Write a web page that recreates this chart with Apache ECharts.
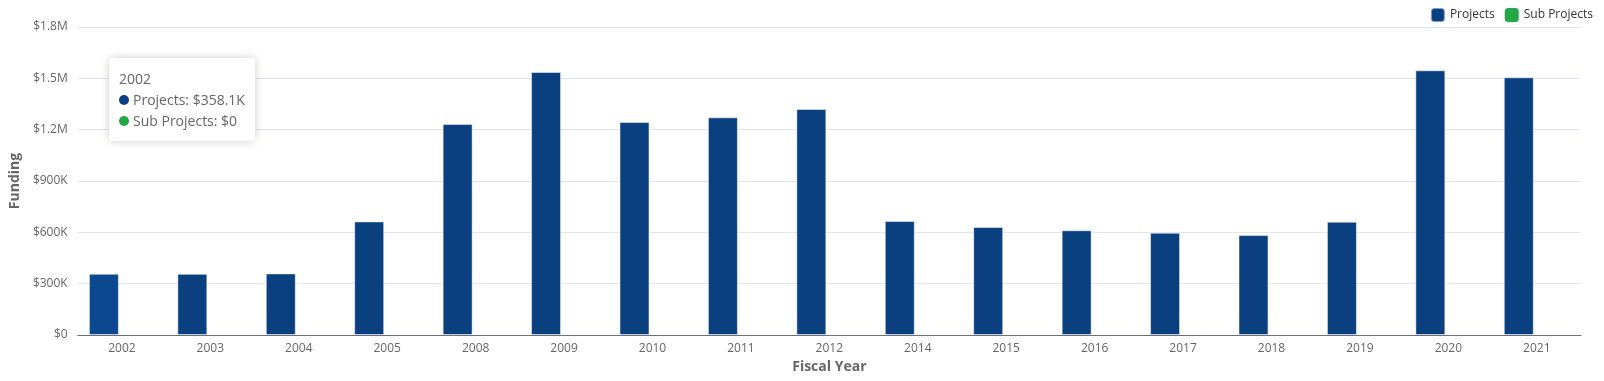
<!DOCTYPE html>
<html>
<head>
<meta charset="utf-8">
<script src="https://cdn.jsdelivr.net/npm/echarts@6/dist/echarts.min.js"></script>
<style>
html,body{margin:0;padding:0;background:#fff;}
#c{width:1604px;height:381px;}
</style>
</head>
<body>
<div id="c"></div>
<script>
var categories = ['2002','2003','2004','2005','2008','2009','2010','2011','2012','2014','2015','2016','2017','2018','2019','2020','2021'];
var projects = [358100, 357500, 360000, 664000, 1233000, 1537000, 1245000, 1272000, 1321000, 666000, 631000, 612000, 598000, 584000, 662000, 1547000, 1506000];
var subProjects = [0,0,0,0,0,0,0,0,0,0,0,0,0,0,0,0,0];
var yTicks = [0, 300000, 600000, 900000, 1200000, 1500000, 1800000];

var FONT = '"Open Sans", "Noto Sans", sans-serif';
function fmt(v) {
  if (v === 0) return '$0';
  if (v >= 1000000) return '$' + +(v / 1000000).toFixed(1) + 'M';
  if (v >= 1000) return '$' + +(v / 1000).toFixed(1) + 'K';
  return '$' + v;
}
var colors = ['#0a3f80', '#22a944'];
var chart = echarts.init(document.getElementById('c'));
chart.setOption({
  animation: false,
  textStyle: { fontFamily: FONT },
  color: colors,
  grid: { left: 76, right: 23, top: 27, bottom: 46 },
  legend: {
    right: 6, top: 2, icon: 'roundRect', itemWidth: 14, itemHeight: 14, itemGap: 10,
    textStyle: { fontSize: 12, color: '#333', fontFamily: FONT },
    data: ['Projects', 'Sub Projects']
  },
  tooltip: {
    trigger: 'axis',
    alwaysShowContent: true,
    axisPointer: { type: 'none' },
    position: function () { return [109, 58]; },
    padding: [10, 10],
    borderWidth: 0,
    backgroundColor: '#fff',
    extraCssText: 'box-shadow:0 0 10px rgba(0,0,0,0.2);border-radius:4px;',
    formatter: function (params) {
      var s = '<div style="font-family:' + FONT.replace(/"/g, "'") + ';font-size:14px;color:#666;line-height:21px;">' + params[0].name;
      params.forEach(function (p) {
        s += '<br/><span style="display:inline-block;width:10px;height:10px;border-radius:5px;margin-right:4px;background:' + p.color + ';"></span>' + p.seriesName + ': ' + fmt(p.value);
      });
      return s + '</div>';
    }
  },
  xAxis: {
    type: 'category',
    data: categories,
    name: 'Fiscal Year',
    nameLocation: 'middle',
    nameGap: 22,
    nameTextStyle: { fontSize: 14, fontWeight: 'bold', color: '#666', fontFamily: FONT },
    axisLine: { lineStyle: { color: '#6e7079' } },
    axisTick: { lineStyle: { color: '#6e7079' } },
    axisLabel: { fontSize: 12, color: '#666', margin: 8, fontFamily: FONT }
  },
  yAxis: {
    type: 'value',
    min: yTicks[0],
    max: yTicks[yTicks.length - 1],
    interval: yTicks[1] - yTicks[0],
    name: 'Funding',
    nameLocation: 'middle',
    nameGap: 54,
    nameTextStyle: { fontSize: 14, fontWeight: 'bold', color: '#666', fontFamily: FONT },
    axisLabel: { fontSize: 12, color: '#666', margin: 10, formatter: fmt, fontFamily: FONT },
    splitLine: { lineStyle: { color: '#e0e6f1' } }
  },
  series: [
    {
      name: 'Projects', type: 'bar', data: projects, barWidth: 30, barGap: '20%',
      itemStyle: { color: colors[0], borderColor: 'rgba(255,255,255,0.5)', borderWidth: 1 },
      emphasis: { itemStyle: { color: '#0b4890' } }
    },
    {
      name: 'Sub Projects', type: 'bar', data: subProjects, barWidth: 30,
      itemStyle: { color: colors[1] }
    }
  ]
});
chart.dispatchAction({ type: 'showTip', seriesIndex: 0, dataIndex: 0 });
chart.dispatchAction({ type: 'highlight', seriesIndex: 0, dataIndex: 0 });
</script>
</body>
</html>
